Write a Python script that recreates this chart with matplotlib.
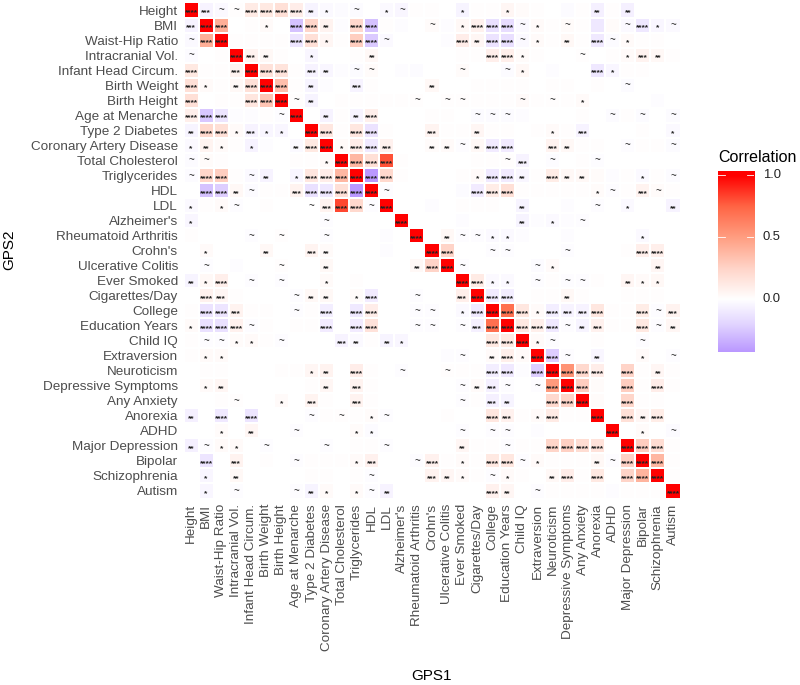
import numpy as np
import matplotlib
matplotlib.use('Agg')
import matplotlib.pyplot as plt
from matplotlib.colors import LinearSegmentedColormap, Normalize

plt.rcParams['font.family'] = ['Liberation Sans', 'DejaVu Sans']

TRAITS = ['Height', 'BMI', 'Waist-Hip Ratio', 'Intracranial Vol.', 'Infant Head Circum.',
          'Birth Weight', 'Birth Height', 'Age at Menarche', 'Type 2 Diabetes',
          'Coronary Artery Disease', 'Total Cholesterol', 'Triglycerides', 'HDL', 'LDL',
          "Alzheimer's", 'Rheumatoid Arthritis', "Crohn's", 'Ulcerative Colitis',
          'Ever Smoked', 'Cigarettes/Day', 'College', 'Education Years', 'Child IQ',
          'Extraversion', 'Neuroticism', 'Depressive Symptoms', 'Any Anxiety', 'Anorexia',
          'ADHD', 'Major Depression', 'Bipolar', 'Schizophrenia', 'Autism']

# correlation x 100, one row per GPS2 trait
COR_ROWS = [
    [100,-6,-3,1,12,13,18,10,-5,-3,-2, -2,0,-3,-4,1,1,0,-5,1,1,5, 2,1,0,-2,1,-7,1,-7,0,0,0],
    [-6,100,42,0,1,3,0,-27,24,7,-1, 22,-27,1,-1,0,2,-1,4,8,-14,-16, -3,3,1,2,1,-11,2,-3,-11,-4,-3],
    [-3,42,100,1,1,1,1,-12,18,5,1, 28,-24,-3,0,0,0,-1,10,5,-13,-15, -3,3,1,4,1,-10,-2,3,1,1,0],
    [-2,0,1,100,7,4,1,0,-4,0,0, 1,4,0,0,0,0,0,1,1,9,9, 2,1,0,0,1,0,1,3,7,4,1],
    [13,1,1,7,100,17,16,1,-6,-4,-1, -2,2,0,-1,-2,0,0,2,0,0,-2, 4,0,-1,0,0,-11,-4,1,1,0,0],
    [18,3,1,4,18,100,35,1,-5,-1,0, -6,1,0,0,0,4,0,0,1,1,1, 1,0,1,1,0,1,0,-2,0,0,0],
    [18,0,1,1,15,32,100,1,-5,0,1, 1,1,1,1,1,0,1,1,1,1,1, 3,1,1,1,3,0,0,0,0,-1,0],
    [9,-25,-12,-1,-1,1,-1,100,0,-6,1, -5,9,0,0,0,1,1,0,-2,-2,-2, -1,0,0,0,1,0,-2,1,-2,0,-2],
    [-5,22,18,3,-6,-4,-4,0,100,14,1, 14,-13,1,0,0,6,1,1,5,1,1, 0,1,3,1,-6,0,0,0,1,0,-3],
    [-3,6,3,1,-6,-1,0,-3,13,100,3, 10,-10,8,0,0,2,3,-1,4,-9,-9, 0,0,7,4,1,1,0,-1,1,1,-2],
    [-2,2,1,0,0,0,0,1,1,3,100, 38,18,80,1,0,0,0,0,1,1,1, -6,0,-1,0,1,-1,0,0,0,0,0],
    [-2,24,28,1,-3,-6,0,-4,15,10,38, 100,-42,22,1,0,0,0,1,3,-10,-9, -4,1,11,4,4,2,-1,1,-3,1,-2],
    [0,-27,-22,4,-2,1,1,7,-14,-11,18, -44,100,-1,0,0,0,0,-2,-9,11,18, 1,1,1,1,1,2,-1,1,7,2,1],
    [-3,1,3,-1,0,1,0,0,0,7,82, 22,-1,100,0,0,-1,0,1,1,1,0, -5,0,0,-1,0,-1,0,-3,0,0,-6],
    [-4,0,0,0,0,0,0,0,0,-1,0, 0,0,0,100,0,0,0,-1,0,0,0, -5,-1,-3,-1,-1,0,0,0,0,0,0],
    [1,0,0,0,-1,0,1,0,0,-1,0, 0,0,-1,0,100,0,4,-1,-1,-3,-3, -1,0,0,-1,0,0,0,0,-3,0,0],
    [0,3,0,0,0,4,0,0,6,3,0, 0,0,-1,0,0,100,25,0,0,-1,-1, 0,0,0,-1,0,0,0,1,9,9,0],
    [0,-1,0,-1,0,0,1,0,0,4,0, 0,0,0,0,4,25,100,-1,0,0,0, 0,-2,3,0,0,0,0,0,0,5,0],
    [-5,4,9,0,-1,0,-1,0,0,3,0, 1,0,0,0,0,0,0,100,12,-3,-3, 0,-1,1,-1,-1,1,0,5,3,4,0],
    [0,8,5,1,0,0,0,-1,4,4,0, 2,-9,0,0,-1,0,0,9,100,-9,-8, 0,1,1,4,1,0,0,1,1,1,0],
    [1,-13,-12,7,1,1,0,-1,1,-8,0, -10,10,0,0,-1,-1,0,-3,-10,100,70, 14,3,-8,-6,-6,14,1,1,11,-1,7],
    [3,-14,-14,8,-1,1,0,1,1,-9,0, -9,17,0,0,-1,-1,0,-1,-7,70,100, 13,9,-10,-1,-5,8,1,1,13,-1,5],
    [1,-1,-1,2,3,1,-1,0,0,0,-6, -3,1,-5,-4,0,0,0,0,0,13,13, 100,3,-1,0,0,1,0,0,-1,0,0],
    [1,3,3,0,0,0,0,0,0,0,0, 0,0,0,0,0,0,-1,-1,0,3,9, 3,100,-22,-1,0,-4,0,0,3,0,-1],
    [0,1,1,0,0,0,1,1,5,7,0, 10,1,0,-1,0,0,1,1,1,-8,-10, -1,-22,100,55,22,10,0,25,1,5,1],
    [0,3,5,0,0,0,0,0,1,5,0, 7,1,0,0,0,0,0,-1,3,-7,-1, 0,-1,52,100,28,2,0,28,1,10,1],
    [0,0,1,1,0,0,3,0,6,1,0, 7,1,0,0,0,0,0,-1,1,-7,-5, 0,0,22,25,100,2,0,24,1,1,0],
    [-7,0,-10,0,-12,0,0,0,-1,1,1, 1,2,-1,0,0,0,1,0,0,14,8, 1,3,12,1,1,100,0,18,5,11,0],
    [0,0,2,0,5,0,0,-1,0,0,0, 2,-2,0,0,0,0,0,-1,0,-1,-1, 0,-1,0,0,0,0,100,0,2,0,-2],
    [-7,-1,3,3,0,-1,0,0,0,-1,0, 1,1,-1,0,0,0,0,5,1,1,-1, 1,1,24,27,20,17,0,100,28,20,1],
    [0,-12,0,7,0,1,0,-1,1,1,1, 3,8,0,0,-1,8,1,3,1,13,14, -1,3,1,1,1,4,-1,26,100,38,1],
    [0,-4,0,4,0,0,0,0,1,1,0, 1,-1,0,0,0,7,5,3,1,-1,3, 1,0,4,10,1,13,0,25,40,100,1],
    [0,-4,0,-1,0,0,0,-1,-5,3,0, 3,-1,-6,0,0,0,0,0,0,8,5, 0,-1,1,1,1,1,-1,1,1,1,100],
]

# significance per tile: . none, ~ trend, 1-4 number of stars
SIG_ROWS = [
    '43~~444421. ~.1~...1..1 .....2.2...',
    '344..1.442. 44...~.1444 ~1.~...~41~',
    '~44....441. 44~....4244 ~1.2.4~1...',
    '~..432..1.. .2.......44 1...~..132.',
    '4..3444.32. ~~.....~..~ 1....41....',
    '41.2444.2.. 3....2..... .......~...',
    '4...444~2.. ....~.~~... ~.~.1......',
    '444...~4.2. 24......~~~ ......~.~.~',
    '2441311.44. 44...3..2.. ..1.3.....1',
    '121.1..2441 443..22~244 ..32...~..~',
    '~~.......14 444.......~ 3.~..~.....',
    '~44.~2.1444 444.....144 2.422...1.~',
    '.442~..3444 44~.....444 .....1~.3~.',
    '1.1~....~34 4~4........ 2....~.1..2',
    '1........~. ...4....... 2.1.~......',
    '....~.~..~. ....4.2~~11 ........1..',
    '.1...2..32. .....44..~~ ...~....44.',
    '.~....~..2. ....244~... .~1......2.',
    '214.~.~..1. .......4411 .~.~~..211.',
    '.43....~22. 14..~..3444 ...2.......',
    '.443...~.4. 44..~~.1444 414334..4~3',
    '1444~....4. 44..~~.~344 444~23..4~2',
    '.~~11.~...3 2.21.....44 41~.....~..',
    '.11........ .......~.24 144~.2..1.~',
    '........12. 4..~..~..44 .44444.4.2.',
    '.12......2. 3......~23~ .~444..4.4.',
    '...~..1.3.. 3......~.32 ..444..4...',
    '2.4.4...~.~ .1~......43 .14..4.424.',
    '..1.2..~... 11.....~.~~ ......4.1.~',
    '2~11.~...~. ..~....2..~ ..4444.444.',
    '.4.3...~... 13..~4.1.44 ~1...2~444.',
    '.1.2....... .~...321.~1 ..24.4.444.',
    '.1.~...~21. 1~2......42 .~........4',
]

LEGEND_TICKS = [0.0, 0.5, 1.0]
W, H = 800, 685

cor = np.array(COR_ROWS) / 100
vmin, vmax = -0.425, 1.035
stops = [(-0.425, '#BA98FF'), (-0.2, '#E2D5FF'), (0.0, '#FFFFFF'), (0.25, '#FFD4C8'),
         (0.5, '#FF9E81'), (0.75, '#FF6545'), (1.0, '#FF0000'), (1.035, '#FF0000')]
cmap = LinearSegmentedColormap.from_list(
    'gps', [((v - vmin) / (vmax - vmin), c) for v, c in stops])
norm = Normalize(vmin, vmax)

fig = plt.figure(figsize=(W / 100, H / 100), dpi=100)
ax = fig.add_axes([183.5 / W, 1 - 498.5 / H, 497 / W, 496 / H])

n = len(TRAITS)
edges = np.arange(n + 1) - 0.5
ax.pcolormesh(edges, edges, cor, cmap=cmap, norm=norm, edgecolors='white', linewidth=0.3)
ax.set_xlim(-0.5, n - 0.5)
ax.set_ylim(n - 0.5, -0.5)

for i, row in enumerate(SIG_ROWS):
    cells = row.replace(' ', '')
    for j, s in enumerate(cells):
        if s == '.':
            continue
        if s == '~':
            ax.text(j, i + 0.02, '~', ha='center', va='center', fontsize=7, color='#222222')
        else:
            ax.text(j, i + 0.2, '*' * int(s), ha='center', va='center', fontsize=6.1,
                    fontweight='bold', color='#222222')

ax.set_xticks(range(n))
ax.set_yticks(range(n))
ax.set_xticklabels(TRAITS, rotation=90, ha='center', va='top')
ax.set_yticklabels(TRAITS)
ax.tick_params(length=0, labelsize=9.7, labelcolor='#4D4D4D', pad=4)
for s in ax.spines.values():
    s.set_visible(False)

fig.text(432 / W, 1 - 676 / H, 'GPS1', ha='center', va='center', fontsize=11)
fig.text(9 / W, 1 - 250 / H, 'GPS2', ha='center', va='center', rotation=90, fontsize=11)

# legend colour bar
cax = fig.add_axes([717.7 / W, 1 - 351.7 / H, 36.3 / W, 181 / H])
grad = np.linspace(vmax, vmin, 256).reshape(-1, 1)
cax.imshow(grad, cmap=cmap, norm=norm, aspect='auto', extent=[0, 1, vmin, vmax])
for t in LEGEND_TICKS:
    cax.plot([0, 0.2], [t, t], color='white', lw=0.6)
    cax.plot([0.8, 1], [t, t], color='white', lw=0.6)
    cax.text(1.24, t, f'{t:.1f}', ha='left', va='center', fontsize=9.4, color='#222222')
cax.set_xlim(0, 1)
cax.set_ylim(vmin, vmax)
cax.axis('off')
fig.text(718 / W, 1 - 157 / H, 'Correlation', ha='left', va='center', fontsize=11.5)

fig.savefig('out.png', dpi=100)
